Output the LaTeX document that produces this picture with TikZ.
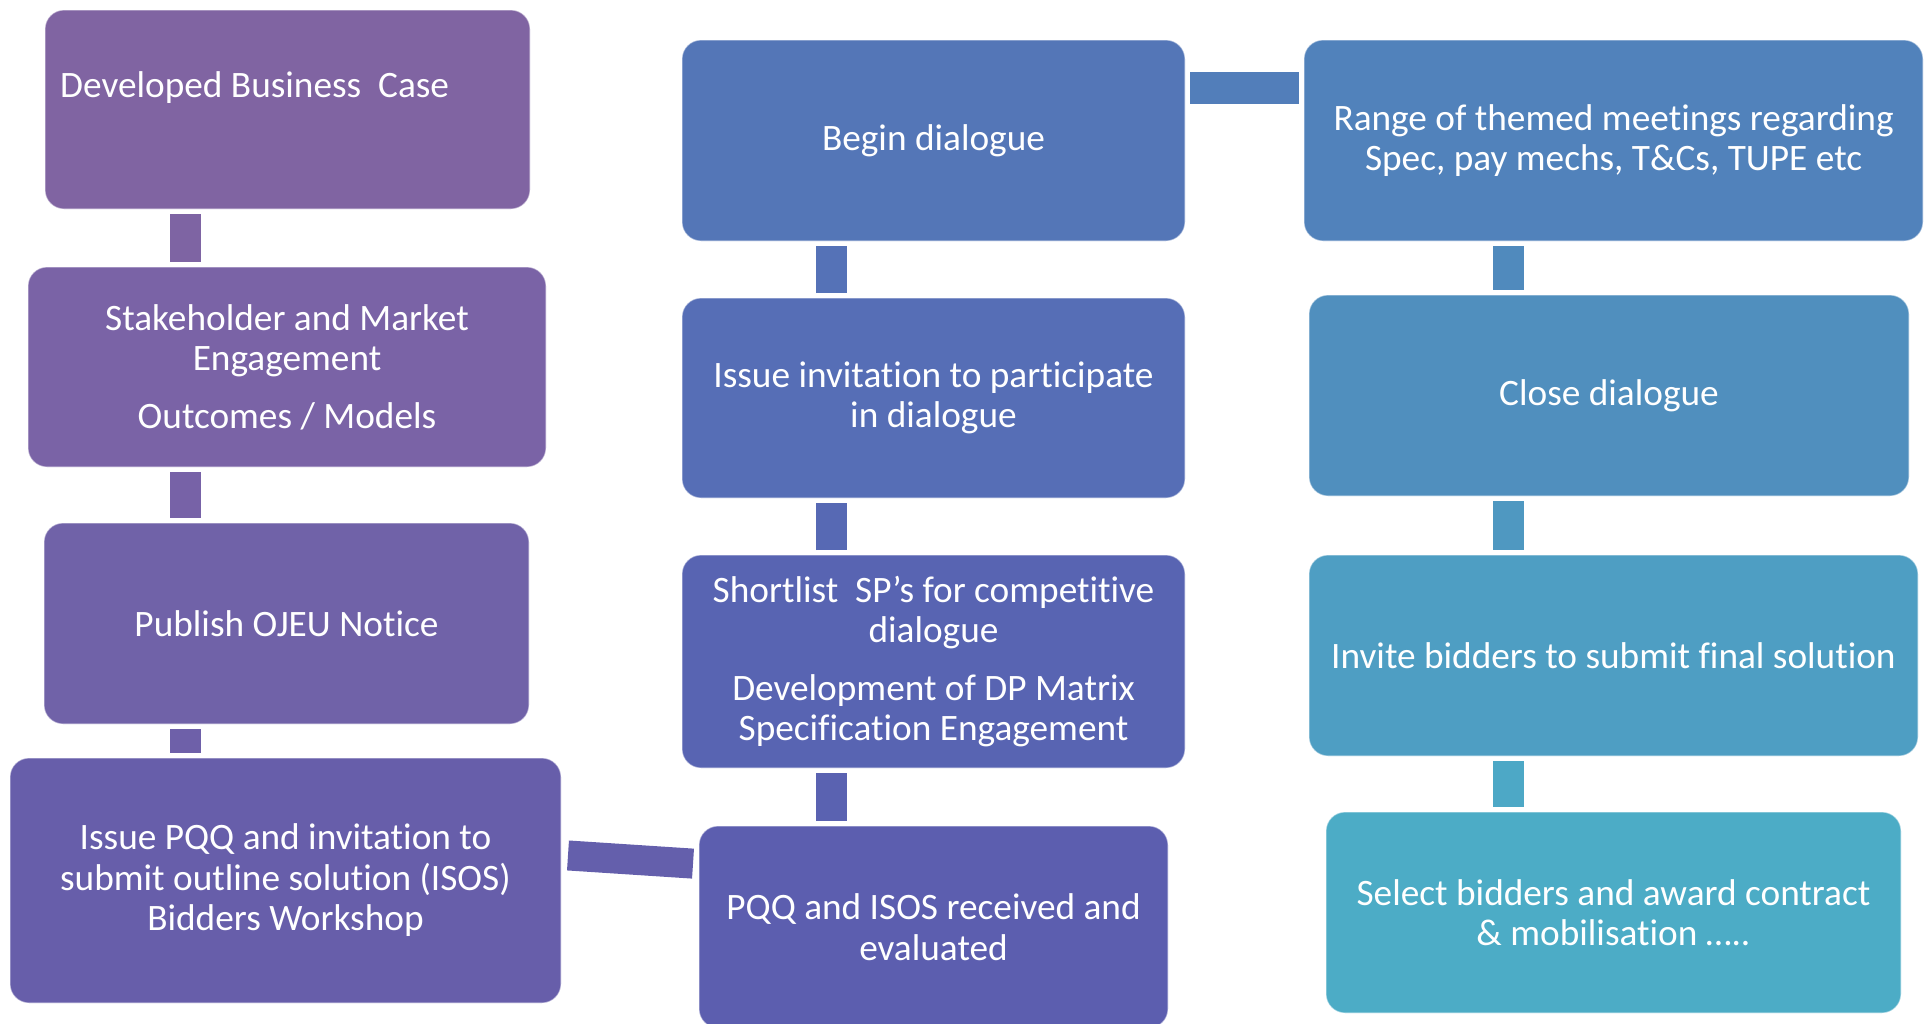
\documentclass[tikz,border=0pt]{standalone}
\usepackage{fontspec}
\setmainfont[Ligatures=NoCommon]{Carlito}
\definecolor{c1}{RGB}{128,100,162}
\definecolor{c2}{RGB}{122,99,166}
\definecolor{c3}{RGB}{112,98,168}
\definecolor{c4}{RGB}{103,94,170}
\definecolor{c8}{RGB}{92,94,175}
\definecolor{c7}{RGB}{88,100,178}
\definecolor{c6}{RGB}{86,110,182}
\definecolor{c5}{RGB}{84,118,183}
\definecolor{c9}{RGB}{81,130,187}
\definecolor{c10}{RGB}{80,143,190}
\definecolor{c11}{RGB}{78,158,195}
\definecolor{c12}{RGB}{76,172,198}
\definecolor{k12}{RGB}{126,100,163}
\definecolor{k23}{RGB}{119,98,167}
\definecolor{k34}{RGB}{110,96,169}
\definecolor{k48}{RGB}{100,95,172}
\definecolor{k87}{RGB}{90,98,177}
\definecolor{k76}{RGB}{87,105,180}
\definecolor{k65}{RGB}{85,114,183}
\definecolor{k59}{RGB}{82,126,186}
\definecolor{k910}{RGB}{80,138,189}
\definecolor{k1011}{RGB}{79,152,193}
\definecolor{k1112}{RGB}{77,168,198}
\tikzset{
  stepbox/.style={rectangle, rounded corners=19pt, draw=white, draw opacity=0.45,
    line width=1.2pt, text=white, align=center, inner sep=0pt, outer sep=0pt,
    font=\fontsize{37.3}{40.5}\selectfont},
  barline/.style={line width=31pt, shorten <=5pt, shorten >=5pt}
}
\begin{document}
\begin{tikzpicture}[x=1pt,y=-1pt]
\useasboundingbox (0,0) rectangle (1930,1023);
% column 1
\node[stepbox, fill=c1, minimum width=485pt, minimum height=199pt] (b1) at (287.5,109.5) {};
\node[text=white, anchor=base west, inner sep=0pt, font=\fontsize{37.3}{40.5}\selectfont] (b1t) at (60,97) {Developed Business\ \ Case};
\node[stepbox, fill=c2, minimum width=518pt, minimum height=200pt] (b2) at (287,367) {Stakeholder and Market\\Engagement\\[17pt]Outcomes / Models};
\node[stepbox, fill=c3, minimum width=485pt, minimum height=201pt] (b3) at (286.5,623.5) {Publish OJEU Notice};
\node[stepbox, fill=c4, minimum width=551pt, minimum height=245pt] (b4) at (285.5,880.5) {Issue PQQ and invitation to\\submit outline solution (ISOS)\\Bidders Workshop};
% column 2
\node[stepbox, fill=c8, minimum width=469pt, minimum height=202pt] (b8) at (933.5,927) {PQQ and ISOS received and\\evaluated};
\node[stepbox, fill=c7, minimum width=503pt, minimum height=213pt] (b7) at (933.5,661.5) {Shortlist\ \ SP’s for competitive\\dialogue\\[17pt]Development of DP Matrix\\Specification Engagement};
\node[stepbox, fill=c6, minimum width=503pt, minimum height=200pt] (b6) at (933.5,398) {Issue invitation to participate\\in dialogue};
\node[stepbox, fill=c5, minimum width=503pt, minimum height=201pt] (b5) at (933.5,140.5) {Begin dialogue};
% column 3
\node[stepbox, fill=c9, minimum width=619pt, minimum height=201pt] (b9) at (1613.5,140.5) {Range of themed meetings regarding\\Spec, pay mechs, T\&Cs, TUPE etc};
\node[stepbox, fill=c10, minimum width=600pt, minimum height=201pt] (b10) at (1609,395.5) {Close dialogue};
\node[stepbox, fill=c11, minimum width=609pt, minimum height=201pt] (b11) at (1613.5,655.5) {Invite bidders to submit final solution};
\node[stepbox, fill=c12, minimum width=575pt, minimum height=201pt] (b12) at (1613.5,912.5) {Select bidders and award contract\\\& mobilisation …..};
% connector guides
\coordinate (x1) at (185,0);
\coordinate (x2) at (831.5,0);
\coordinate (x3) at (1508,0);
\coordinate (yh) at (0,88);
\coordinate (yl) at (0,855);
\coordinate (yr) at (0,864);
% connectors
\draw[barline, draw=k12] (b1.south -| x1) -- (b2.north -| x1);
\draw[barline, draw=k23] (b2.south -| x1) -- (b3.north -| x1);
\draw[barline, draw=k34] (b3.south -| x1) -- (b4.north -| x1);
\draw[barline, draw=k48, line width=30pt, shorten <=7pt, shorten >=6pt] (b4.east |- yl) -- (b8.west |- yr);
\draw[barline, draw=k87] (b8.north -| x2) -- (b7.south -| x2);
\draw[barline, draw=k76] (b7.north -| x2) -- (b6.south -| x2);
\draw[barline, draw=k65] (b6.north -| x2) -- (b5.south -| x2);
\draw[barline, draw=k59, line width=32pt] (b5.east |- yh) -- (b9.west |- yh);
\draw[barline, draw=k910] (b9.south -| x3) -- (b10.north -| x3);
\draw[barline, draw=k1011] (b10.south -| x3) -- (b11.north -| x3);
\draw[barline, draw=k1112] (b11.south -| x3) -- (b12.north -| x3);
\end{tikzpicture}
\end{document}
